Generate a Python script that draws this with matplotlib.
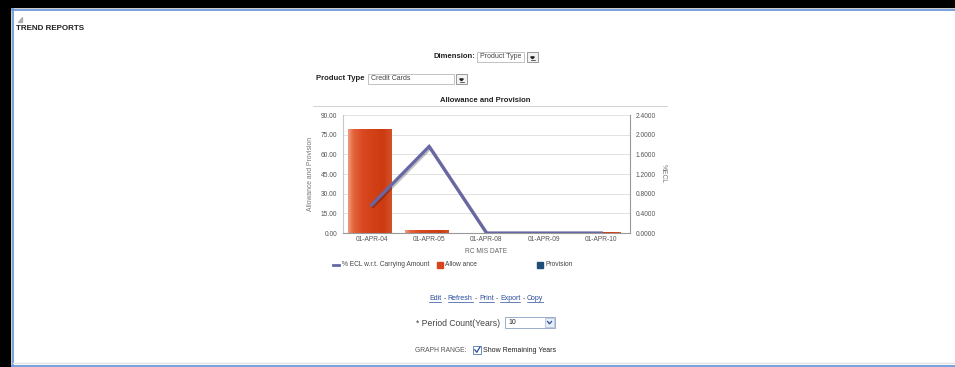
import numpy as np
import matplotlib
matplotlib.use("Agg")
import matplotlib.pyplot as plt
import matplotlib.patheffects as pe
from matplotlib.patches import Rectangle, Polygon
from matplotlib.colors import LinearSegmentedColormap

# chart data
dates = ["01-APR-04", "01-APR-05", "01-APR-08", "01-APR-09", "01-APR-10"]
allowance = [79.0, 2.6, 0.0, 0.0, 0.6]
provision = [0.0, 0.0, 0.0, 0.0, 0.0]
ecl_pct = [0.57, 1.76, 0.0, 0.0, 0.0]
left_ticks = [0, 15, 30, 45, 60, 75, 90]
right_ticks = [0, 0.4, 0.8, 1.2, 1.6, 2.0, 2.4]

W, H = 955, 367
plt.rcParams['font.family'] = ['Liberation Sans', 'DejaVu Sans']

fig = plt.figure(figsize=(W / 100, H / 100), dpi=100)

# page layer in pixel coordinates
page = fig.add_axes([0, 0, 1, 1])
page.set_xlim(0, W)
page.set_ylim(H, 0)
page.axis('off')
renderer = fig.canvas.get_renderer()

# window frame
page.add_patch(Rectangle((0, 0), 10, H, color='black'))
page.add_patch(Rectangle((0, 0), W, 7, color='black'))
page.plot([12.5, 12.5], [9, 366], color='#6a9ad8', lw=1.3)
page.plot([12, W], [10, 10], color='#6a9ad8', lw=1.3)
page.plot([13, W], [363, 363], color='#e2e2e2', lw=1.0)
page.plot([12, W], [365.5, 365.5], color='#6a9ad8', lw=1.3)
page.add_patch(Polygon([(18, 22), (22, 22), (22, 17)], color='#b0b0b0'))

page.text(16, 29, "TREND REPORTS", fontsize=5.8, fontweight='bold', va='center', color='#222')


def dropdown(x, y, w, h, text, bx):
    page.add_patch(Rectangle((x, y), w, h, fc='white', ec='#b8b8b8', lw=0.6))
    page.text(x + 3, y + h / 2, text, fontsize=5, va='center', color='#444')
    page.add_patch(Rectangle((bx, y), 11, h, fc='#f2f2f2', ec='#8a8a8a', lw=0.6))
    cx, cy = bx + 5.5, y + h / 2 + 0.5
    page.add_patch(Polygon([(cx - 1.8, cy - 0.6), (cx + 1.8, cy - 0.6), (cx, cy + 1.2)], color='#222'))
    page.plot([cx - 2, cx + 2], [cy + 2.2, cy + 2.2], color='#222', lw=0.5)


page.text(475, 57, "Dimension:", fontsize=5.5, fontweight='bold', ha='right', va='center', color='#222')
dropdown(477, 52, 47, 10, "Product Type", 527)
page.text(364, 79, "Product Type", fontsize=5.6, fontweight='bold', ha='right', va='center', color='#222')
dropdown(368, 74, 86, 10, "Credit Cards", 456)

# chart title
page.text(485, 100, "Allowance and Provision", fontsize=5.5, fontweight='bold', ha='center', va='center', color='#222')
page.plot([313, 667], [105.5, 105.5], color='#cccccc', lw=0.6)

# chart
ax = fig.add_axes([343 / W, 1 - 233 / H, 287 / W, 118 / H])
x = np.arange(len(dates))
bw = 0.76
cmap = LinearSegmentedColormap.from_list(
    'bar', [(0, '#ee9a7c'), (0.12, '#e2643c'), (0.35, '#d9471e'), (0.8, '#cc3a10'), (1, '#d2502a')])
grad = np.linspace(0, 1, 64).reshape(1, -1)
bars = ax.bar(x - 0.04, allowance, bw, color='#d9441c', zorder=2)
for b in bars:
    im = ax.imshow(grad, extent=[b.get_x(), b.get_x() + b.get_width(), 0, b.get_height()],
                   aspect='auto', cmap=cmap, zorder=2.5)
    im.set_clip_path(b)
ax.bar(x + bw / 2, provision, 0.06, color='#1f4e79', zorder=2)

ax.set_xlim(-0.5, len(dates) - 0.5)
ax.set_ylim(0, 90)
ax.set_yticks(left_ticks)
ax.set_yticklabels(["%.2f" % v for v in left_ticks])
ax.set_xticks(x)
ax.set_xticklabels(dates)
ax.grid(axis='y', color='#dddddd', lw=0.6)
ax.set_axisbelow(True)
ax.tick_params(axis='y', length=0, labelsize=4.8, labelcolor='#555555', pad=4)
ax.tick_params(axis='x', length=0, labelsize=4.8, labelcolor='#555555', pad=2.5)
for s in ['top', 'right']:
    ax.spines[s].set_visible(False)
ax.spines['left'].set_color('#c8c8c8')
ax.spines['bottom'].set_color('#999999')
ax.set_ylabel("Allowance and Provision", fontsize=4.9, color='#777777', labelpad=5)
ax.set_xlabel("RC MIS DATE", fontsize=4.8, color='#666666', labelpad=3)

ax2 = ax.twinx()
ax2.plot(x, ecl_pct, color='#6767a6', lw=2.3, solid_joinstyle='miter',
         path_effects=[pe.SimpleLineShadow(offset=(1, -1), alpha=0.25), pe.Normal()])
ax2.set_ylim(0, 2.4)
ax2.set_yticks(right_ticks)
ax2.set_yticklabels(["%.4f" % v for v in right_ticks])
ax2.tick_params(length=0, labelsize=4.8, labelcolor='#555555', pad=4)
for s in ['top', 'left', 'bottom']:
    ax2.spines[s].set_visible(False)
ax2.spines['right'].set_color('#999999')
ax2.set_ylabel("%ECL", fontsize=4.9, color='#777777', rotation=270, labelpad=8)

# legend
page.plot([333, 339], [265, 265], color='#6767a6', lw=2)
page.text(342, 265, "% ECL w.r.t. Carrying Amount", fontsize=4.8, va='center', color='#444')
page.add_patch(Rectangle((437, 262), 6, 6, color='#d9441c'))
page.text(445, 265, "Allow ance", fontsize=4.8, va='center', color='#444')
page.add_patch(Rectangle((537, 262), 6, 6, color='#1f4e79'))
page.text(545, 265, "Provision", fontsize=4.8, va='center', color='#444')

# action links
xp = 429
for s in ["Edit", "-", "Refresh", "-", "Print", "-", "Export", "-", "Copy"]:
    link = s != "-"
    col = '#2a4c9c' if link else '#444'
    t = page.text(xp, 300, s, fontsize=5.0, color=col, va='baseline')
    wd = t.get_window_extent(renderer).width
    if link:
        page.plot([xp, xp + wd], [301.5, 301.5], color=col, lw=0.5)
    xp += wd + (2.5 if link else 1.5)

# period count
page.text(416, 323, "* Period Count(Years)", fontsize=6.2, va='center', color='#444')
page.add_patch(Rectangle((505, 317), 50, 11, fc='white', ec='#8aa0c0', lw=0.6))
page.text(508, 322.5, "10", fontsize=5, va='center', color='#222')
page.add_patch(Rectangle((545, 318), 9, 9, fc='#e8eef8', ec='#a8b8d0', lw=0.5))
page.plot([547.5, 549.5, 551.5], [321.5, 323.8, 321.5], color='#2a4c9c', lw=0.9)

# graph range
page.text(415, 350, "GRAPH RANGE:", fontsize=4.9, va='center', color='#555')
page.add_patch(Rectangle((473, 346), 8, 8, fc='white', ec='#6a8ac0', lw=0.7))
page.plot([474.8, 476.8, 480], [349.8, 352.3, 347], color='#2a4c9c', lw=0.9)
page.text(483, 350, "Show Remaining Years", fontsize=5, va='center', color='#222')

fig.savefig("out.png", dpi=100)
